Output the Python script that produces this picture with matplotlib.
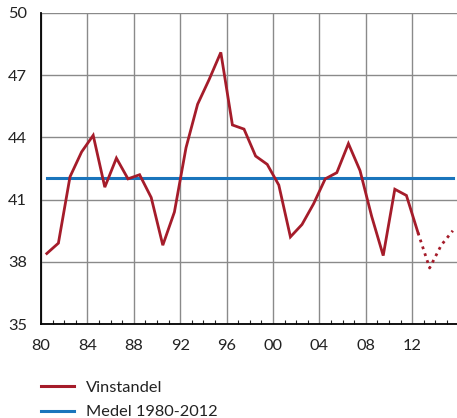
import matplotlib
matplotlib.use("Agg")
import matplotlib.pyplot as plt
from matplotlib.ticker import MultipleLocator
from matplotlib.lines import Line2D
import numpy as np

# Profit share, annual values plotted at mid-year
years = np.arange(1980, 2013)
vinstandel = [38.4, 38.9, 42.1, 43.3, 44.1, 41.6, 43.0, 42.0, 42.2, 41.1,
              38.8, 40.4, 43.5, 45.6, 46.8, 48.1, 44.6, 44.4, 43.1, 42.7,
              41.7, 39.2, 39.8, 40.8, 42.0, 42.3, 43.7, 42.4, 40.2, 38.3,
              41.5, 41.2, 39.4]
# Forecast years (dotted)
prog_years = [2012, 2013, 2014, 2015]
prognos = [39.4, 37.7, 38.8, 39.5]
medel = 42.05
medel_span = [1980, 2015]

y_ticks = [35, 38, 41, 44, 47, 50]
x_ticks = [1980, 1984, 1988, 1992, 1996, 2000, 2004, 2008, 2012]
x_labels = ["80", "84", "88", "92", "96", "00", "04", "08", "12"]

plt.rcParams['font.family'] = ['Lato', 'DejaVu Sans']

red = "#a51c2a"
blue = "#1a75bc"

fig = plt.figure(figsize=(4.57, 4.18), dpi=100)
ax = fig.add_axes([41/457, 94/418, 416/457, 311/418])

off = 0.5
ax.plot(years + off, vinstandel, color=red, lw=2.0, solid_joinstyle='miter', zorder=3)
ax.plot(np.array(prog_years) + off, prognos, color=red, lw=2.0, ls=(0, (1, 1.6)), zorder=3)
ax.plot(np.array(medel_span) + off, [medel, medel], color=blue, lw=2.2, zorder=2)

ax.set_xlim(1980, 2015.86)
ax.set_ylim(35, 50)
ax.set_yticks(y_ticks)
ax.set_xticks(x_ticks)
ax.set_xticklabels(x_labels)
ax.xaxis.set_minor_locator(MultipleLocator(1))

ax.grid(True, which='major', color='#8a8a8a', lw=1.0)
ax.set_axisbelow(True)
for s in ['top', 'right']:
    ax.spines[s].set_visible(False)
ax.spines['left'].set_linewidth(1.3)
ax.spines['bottom'].set_linewidth(1.3)
ax.tick_params(axis='both', which='major', direction='in', length=0, labelsize=11.8, colors='#222222')
ax.tick_params(axis='x', which='major', pad=11)
ax.tick_params(axis='y', which='major', pad=10)
ax.tick_params(axis='x', which='minor', direction='in', length=3, width=0.8, color='#222222')

handles = [Line2D([], [], color=red, lw=2.2), Line2D([], [], color=blue, lw=2.2)]
fig.legend(handles, ["Vinstandel", "Medel 1980-2012"], loc='upper left',
           bbox_to_anchor=(0.075, 0.105), frameon=False, fontsize=11.8,
           handlelength=2.0, handletextpad=0.75, labelspacing=0.6, borderaxespad=0,
           labelcolor='#222222')

fig.savefig("out.png", dpi=100)
